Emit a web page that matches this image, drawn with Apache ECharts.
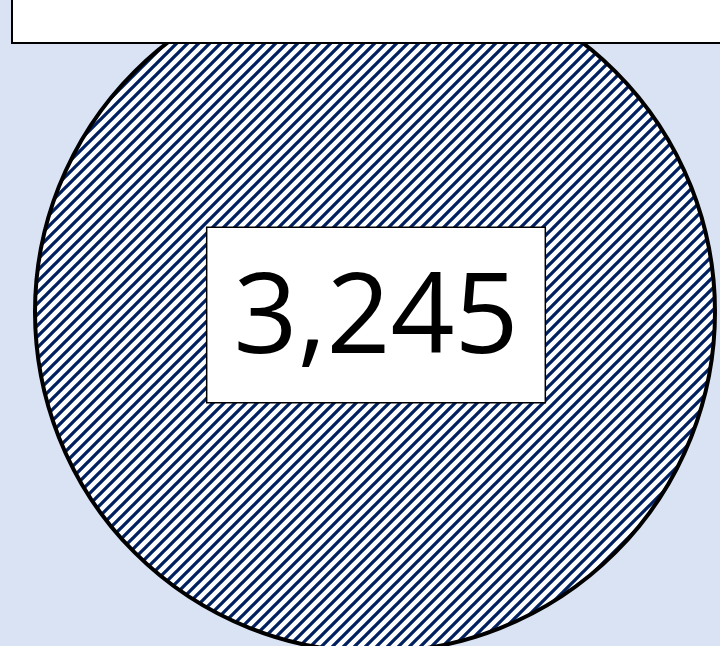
<!DOCTYPE html>
<html>
<head>
<meta charset="utf-8">
<script src="https://cdn.jsdelivr.net/npm/echarts@6/dist/echarts.min.js"></script>
<style>
  html, body { margin: 0; padding: 0; background: #dae3f3; }
  #main { width: 720px; height: 646px; }
</style>
</head>
<body>
<div id="main"></div>
<script>
var categories = ['Total']
var values = [3245]

// striped tile for the slice fill
function makeHatch () {
  var s = 11
  var c = document.createElement('canvas')
  c.width = s
  c.height = s
  var ctx = c.getContext('2d')
  ctx.fillStyle = '#fff'
  ctx.fillRect(0, 0, s, s)
  ctx.strokeStyle = '#002060'
  ctx.lineWidth = 3.3
  ctx.beginPath()
  ctx.moveTo(-2, s + 2); ctx.lineTo(s + 2, -2)
  ctx.moveTo(-2, 2); ctx.lineTo(2, -2)
  ctx.moveTo(s - 2, s + 2); ctx.lineTo(s + 2, s - 2)
  ctx.stroke()
  return c
}

var chartDom = document.getElementById('main')
var myChart = echarts.init(chartDom)
var hatch = makeHatch()

var option = {
  backgroundColor: '#dae3f3',
  animation: false,
  graphic: [
    {
      type: 'rect',
      z: 100,
      shape: { x: 12, y: -20, width: 740, height: 63 },
      style: { fill: '#fff', stroke: '#000', lineWidth: 2 }
    }
  ],
  series: [
    {
      type: 'pie',
      center: [375, 312],
      radius: [0, 340],
      startAngle: 90,
      silent: true,
      itemStyle: {
        color: { image: hatch, repeat: 'repeat' },
        borderColor: '#000',
        borderWidth: 4
      },
      label: {
        show: true,
        position: 'center',
        offset: [1, 3],
        formatter: function (p) { return '{v|' + p.value.toLocaleString('en-US') + '}' },
        backgroundColor: '#fff',
        borderColor: '#000',
        borderWidth: 1.5,
        padding: [22, 26],
        rich: {
          v: {
            fontFamily: 'Open Sans',
            fontSize: 112,
            lineHeight: 130,
            color: '#000',
            padding: [12, 0, 0, 0],
            height: 118
          }
        }
      },
      labelLine: { show: false },
      emphasis: { disabled: true },
      data: categories.map(function (name, i) { return { name: name, value: values[i] } })
    }
  ]
}

option && myChart.setOption(option)
</script>
</body>
</html>
